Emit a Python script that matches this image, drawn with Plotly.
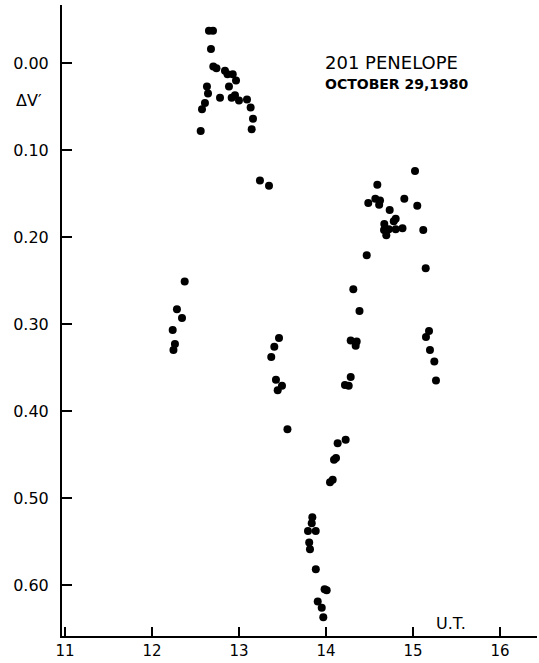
import plotly.graph_objects as go

# Universal time (hours) and differential magnitude ΔV'
ut = [12.655, 12.701, 12.678, 12.705, 12.741, 12.839, 12.868, 12.928, 12.966, 12.632,
      12.644, 12.885, 12.782, 12.916, 12.954, 13.000, 13.092, 12.609, 12.575, 13.134,
      13.161, 12.560, 13.146, 13.241, 13.345,
      12.376, 12.287, 12.345, 12.238, 12.264, 12.247,
      13.460, 13.406, 13.371, 13.425, 13.494, 13.445, 13.557,
      13.843, 13.836, 13.793, 13.882, 13.807, 13.816, 13.883, 13.984, 14.008, 13.905,
      13.951, 13.969,
      14.046, 14.077, 14.092, 14.115, 14.134, 14.226, 14.218, 14.261, 14.284, 14.284,
      14.353, 14.341, 14.385, 14.314, 14.468,
      15.023, 14.590, 14.486, 14.567, 14.621, 14.611, 14.900, 15.049, 14.732, 14.779,
      14.801, 14.670, 14.667, 14.722, 14.801, 14.879, 14.693, 15.118, 15.146,
      15.184, 15.149, 15.195, 15.245, 15.264]
dv = [-0.037, -0.037, -0.016, 0.004, 0.006, 0.009, 0.013, 0.013, 0.020, 0.027,
      0.035, 0.027, 0.040, 0.040, 0.037, 0.043, 0.042, 0.046, 0.053, 0.051,
      0.064, 0.078, 0.076, 0.135, 0.141,
      0.251, 0.283, 0.293, 0.307, 0.323, 0.330,
      0.316, 0.326, 0.338, 0.364, 0.371, 0.376, 0.421,
      0.522, 0.529, 0.538, 0.538, 0.551, 0.559, 0.582, 0.605, 0.606, 0.619,
      0.626, 0.637,
      0.482, 0.479, 0.456, 0.454, 0.437, 0.433, 0.370, 0.371, 0.361, 0.319,
      0.320, 0.325, 0.285, 0.260, 0.221,
      0.124, 0.140, 0.161, 0.156, 0.158, 0.163, 0.156, 0.164, 0.169, 0.182,
      0.179, 0.185, 0.192, 0.191, 0.191, 0.190, 0.198, 0.192, 0.236,
      0.308, 0.315, 0.330, 0.343, 0.365]

x_ticks = [11, 12, 13, 14, 15, 16]
x_labels = ["11", "12", "13", "14", "15", "16"]
y_ticks = [0.0, 0.1, 0.2, 0.3, 0.4, 0.5, 0.6]
y_labels = ["0.00", "0.10", "0.20", "0.30", "0.40", "0.50", "0.60"]

fig = go.Figure()
fig.add_trace(go.Scatter(
    x=ut, y=dv, mode="markers",
    marker=dict(color="black", size=8, line=dict(width=0)),
    showlegend=False, hoverinfo="skip"))

font = "DejaVu Sans"
fig.update_layout(
    width=539, height=663,
    margin=dict(l=62, r=2, t=5, b=27, autoexpand=False),
    paper_bgcolor="white", plot_bgcolor="white",
    font=dict(family=font, color="black", size=16),
    xaxis=dict(range=[10.966, 16.425], tickvals=x_ticks, ticktext=x_labels,
               showgrid=False, zeroline=False, showline=True, linecolor="black",
               linewidth=2, ticks="inside", ticklen=9, tickwidth=2, tickcolor="black",
               tickfont=dict(family=font, size=15), ticklabelstandoff=0,
               automargin=False),
    yaxis=dict(range=[0.6586, -0.0667], tickvals=y_ticks, ticktext=y_labels,
               showgrid=False, zeroline=False, showline=True, linecolor="black",
               linewidth=2, ticks="inside", ticklen=10, tickwidth=2, tickcolor="black",
               tickfont=dict(family=font, size=16), ticklabelstandoff=8,
               automargin=False),
    annotations=[
        dict(text="201 PENELOPE", xref="paper", yref="paper", x=0.5488, y=0.9081,
             xanchor="left", yanchor="middle", showarrow=False,
             font=dict(family=font, size=18, color="black")),
        dict(text="<b>OCTOBER 29,1980</b>", xref="paper", yref="paper", x=0.5488, y=0.8748,
             xanchor="left", yanchor="middle", showarrow=False,
             font=dict(family=font, size=14, color="black")),
        dict(text="ΔV′", xref="paper", yref="paper", x=-0.0695, y=0.8479,
             xanchor="center", yanchor="middle", showarrow=False,
             font=dict(family=font, size=16, color="black")),
        dict(text="U.T.", xref="paper", yref="paper", x=0.8189, y=0.0206,
             xanchor="center", yanchor="middle", showarrow=False,
             font=dict(family=font, size=16, color="black")),
    ],
)

fig.write_html("out.html")
